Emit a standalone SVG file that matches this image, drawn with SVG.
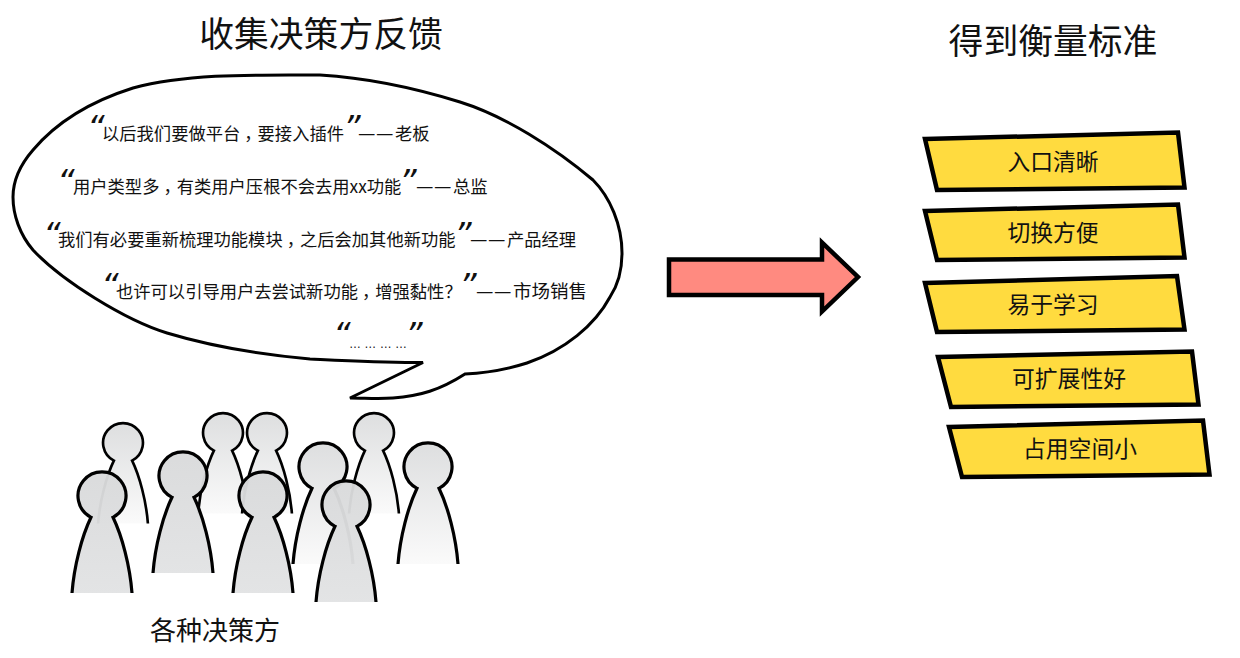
<svg xmlns="http://www.w3.org/2000/svg" xmlns:xlink="http://www.w3.org/1999/xlink" width="1240" height="658" viewBox="0 0 1240 658">
<style>
text{font-family:"Noto Sans CJK SC","Noto Sans",sans-serif;fill:#111}
.title{font-size:34.8px;text-anchor:middle}
.q{font-size:17.3px}
.d{font-size:19.500px}
.qm{font-family:"DejaVu Sans",sans-serif;font-style:italic;font-size:34px}
.lab{font-size:22.8px;text-anchor:middle}
.box{fill:#ffdb3f;stroke:#000;stroke-width:4.5;stroke-linejoin:miter}
.solid{fill:url(#gs);stroke:#000;stroke-width:3.2;vector-effect:non-scaling-stroke}
.fade{fill:url(#gf);stroke:#000;stroke-width:3.2;vector-effect:non-scaling-stroke}
</style>
<defs>
<linearGradient id="gs" x1="0" y1="0" x2="0" y2="1"><stop offset="0" stop-color="#d9dadb" stop-opacity=".96"/><stop offset="1" stop-color="#e2e3e4" stop-opacity=".97"/></linearGradient>
<linearGradient id="gf" x1="0" y1="0" x2="0" y2="1"><stop offset="0" stop-color="#dcddde" stop-opacity=".96"/><stop offset="1" stop-color="#fafafa" stop-opacity=".96"/></linearGradient>
<path id="pawn" d="M-30,97C-28,70-20,40-11,21.3A24,24 0 1 1 11,21.3C20,40 28,70 30,97"/>
</defs>
<text class="title" x="321" y="47">收集决策方反馈</text>
<text class="title" x="1053" y="54">得到衡量标准</text>
<g id="bubble">
<path d="M423,362.500C385,363 350,361 310,359C255,354 210,346 167,333C125,320 62,281 33,250C20,235 13,215 13,197C13,180 20,165 33,150C60,118 95,100 133,88C190,73 260,75 320,75C370,78 415,88 460,102C505,116 555,148 593,180C610,197 622,225 622,253C622,270 618,285 610,297C595,325 565,350 527,363C505,370 485,373 465,374C440,390 420,396 393,398C378,399 365,398 350,398Z" fill="#fff" stroke="#000" stroke-width="3" stroke-linejoin="miter"/>
<text class="qm" x="87" y="140">“</text><text class="q" x="102" y="140">以后我们要做平台<tspan dx="4">，</tspan><tspan dx="-4">要接入插件</tspan></text><text class="qm" x="343" y="140">”</text><text class="q d" y="140"><tspan x="358">—</tspan><tspan x="376">—</tspan></text><text class="q" x="395" y="140">老板</text>
<text class="qm" x="57" y="194">“</text><text class="q" x="73" y="193">用户类型多<tspan dx="4">，</tspan><tspan dx="-4">有类用户压根不会去用xx功能</tspan></text><text class="qm" x="399" y="194">”</text><text class="q d" y="193"><tspan x="416">—</tspan><tspan x="434">—</tspan></text><text class="q" x="453" y="193">总监</text>
<text class="qm" x="43" y="247">“</text><text class="q" x="58" y="246">我们有必要重新梳理功能模块<tspan dx="4">，</tspan><tspan dx="-4">之后会加其他新功能</tspan></text><text class="qm" x="454" y="247">”</text><text class="q d" y="246"><tspan x="470">—</tspan><tspan x="488">—</tspan></text><text class="q" x="507" y="246">产品经理</text>
<text class="qm" x="101" y="298">“</text><text class="q" x="116" y="298">也许可以引导用户去尝试新功能<tspan dx="4">，</tspan><tspan dx="-4">增强黏性？</tspan></text><text class="qm" x="459" y="298">”</text><text class="q d" y="298"><tspan x="476">—</tspan><tspan x="494">—</tspan></text><text x="513" y="298" style="font-size:18.500px">市场销售</text>
<text class="qm" x="333" y="347">“</text><text class="qm" x="405" y="347">”</text>
<text x="349" y="348" style="font-family:'Liberation Sans',sans-serif;font-size:12px">… … … …</text>
</g>
<g id="people">
<g id="p1"><use xlink:href="#pawn" href="#pawn" class="fade" transform="translate(123,443) scale(.83)"/></g>
<g id="p2"><use xlink:href="#pawn" href="#pawn" class="fade" transform="translate(223,433) scale(.83)"/></g>
<g id="p3"><use xlink:href="#pawn" href="#pawn" class="fade" transform="translate(267,433) scale(.83)"/></g>
<g id="p4"><use xlink:href="#pawn" href="#pawn" class="fade" transform="translate(374,433) scale(.83)"/></g>
<g id="p5"><use xlink:href="#pawn" href="#pawn" class="fade" transform="translate(323,467)"/></g>
<g id="p6"><use xlink:href="#pawn" href="#pawn" class="fade" transform="translate(428,467)"/></g>
<g id="p7"><use xlink:href="#pawn" href="#pawn" class="solid" transform="translate(102,496)"/></g>
<g id="p8"><use xlink:href="#pawn" href="#pawn" class="solid" transform="translate(183,476)"/></g>
<g id="p9"><use xlink:href="#pawn" href="#pawn" class="solid" transform="translate(263,496)"/></g>
<g id="p10"><use xlink:href="#pawn" href="#pawn" class="solid" transform="translate(346,505)"/></g>
</g>
<text x="215" y="640" style="font-size:26px;text-anchor:middle">各种决策方</text>
<g id="connectors">
<path id="arrow" d="M669,259.500H822V242.500L858,277L822,311.500V295H669Z" fill="#ff8a80" stroke="#000" stroke-width="4.500" stroke-linejoin="miter"/>
</g>
<g id="n1"><polygon class="box" points="925,139 1178,132.500 1184.500,187.500 937,190"/><text class="lab" x="1053" y="170">入口清晰</text></g>
<g id="n2"><polygon class="box" points="925,211 1178,204.500 1184.500,257.500 937,260"/><text class="lab" x="1053" y="241">切换方便</text></g>
<g id="n3"><polygon class="box" points="925,283 1177,276 1184.500,329.500 937,332"/><text class="lab" x="1053" y="313">易于学习</text></g>
<g id="n4"><polygon class="box" points="938,357 1192,351.500 1198.500,404.500 951,407"/><text class="lab" x="1069" y="387">可扩展性好</text></g>
<g id="n5"><polygon class="box" points="949,427 1203,420.500 1209.500,474.500 962,477"/><text class="lab" x="1080" y="457">占用空间小</text></g>
</svg>
